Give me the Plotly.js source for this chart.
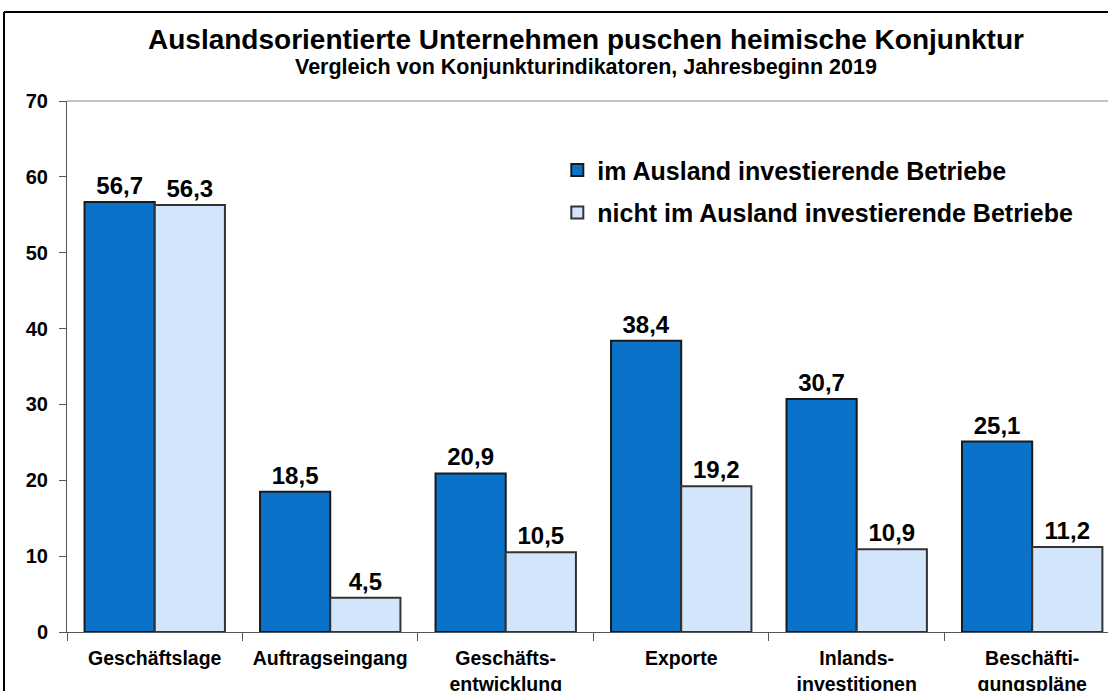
<!DOCTYPE html>
<html>
<head>
<meta charset="utf-8">
<script src="https://cdn.plot.ly/plotly-3.0.1.min.js"></script>
<style>
html,body{margin:0;padding:0;background:#fff;}
#chart{width:1108px;height:691px;}
</style>
</head>
<body>
<div id="chart"></div>
<script>
const categories = ["Geschäftslage", "Auftragseingang", "Geschäfts-<br>entwicklung", "Exporte", "Inlands-<br>investitionen", "Beschäfti-<br>gungspläne"];
const seriesNames = ["im Ausland investierende Betriebe", "nicht im Ausland investierende Betriebe"];
const valuesAusland = [56.7, 18.5, 20.9, 38.4, 30.7, 25.1];
const valuesNichtAusland = [56.3, 4.5, 10.5, 19.2, 10.9, 11.2];
const yTicks = [0, 10, 20, 30, 40, 50, 60, 70];
const titleText = "Auslandsorientierte Unternehmen puschen heimische Konjunktur";
const subtitleText = "Vergleich von Konjunkturindikatoren, Jahresbeginn 2019";

const font = "Liberation Sans, Arial, sans-serif";

const common = {
  type: "bar",
  x: categories,
  texttemplate: "%{y:.1f}",
  textposition: "outside",
  cliponaxis: false,
  textfont: {family: font, size: 24, color: "#000", weight: "bold"},
  hoverinfo: "skip"
};

const traces = [
  Object.assign({}, common, {
    name: seriesNames[0], y: valuesAusland, legendgroup: "a",
    marker: {color: "#0A72C8", line: {color: "#1a1a1a", width: 2}}
  }),
  Object.assign({}, common, {
    name: seriesNames[1], y: valuesNichtAusland, legendgroup: "b",
    marker: {color: "#D3E5FB", line: {color: "#333333", width: 2}}
  })
];

const layout = {
  width: 1108, height: 691,
  paper_bgcolor: "#fff", plot_bgcolor: "#fff",
  separators: ",.",
  margin: {l: 67, r: 0, t: 101, b: 59, pad: 0},
  barmode: "group", bargap: 0.2, bargroupgap: 0,
  font: {family: font, color: "#000"},
  xaxis: {
    type: "category",
    range: [-0.5, 5.432],
    showline: true, linecolor: "#555", linewidth: 1,
    ticks: "outside", tickson: "boundaries", ticklen: 8, tickcolor: "#555",
    ticklabelstandoff: 9,
    tickfont: {family: font, size: 19.5, color: "#000", weight: "bold"},
    showgrid: false, zeroline: false, fixedrange: true
  },
  yaxis: {
    range: [0, 70],
    tickvals: yTicks,
    showline: true, linecolor: "#555", linewidth: 1,
    ticks: "outside", ticklen: 7, tickcolor: "#555",
    ticklabelstandoff: 7,
    tickfont: {family: font, size: 20, color: "#000", weight: "bold"},
    showgrid: false, zeroline: false, fixedrange: true
  },
  legend: {
    x: 0.471, y: 0.913, xanchor: "left", yanchor: "top",
    bgcolor: "rgba(0,0,0,0)",
    font: {family: font, size: 25, color: "#000", weight: "bold"},
    traceorder: "grouped", tracegroupgap: 7,
    itemwidth: 30
  },
  annotations: [
    {text: "<b>" + titleText + "</b>", xref: "paper", yref: "paper", x: 0.4986, y: 592/531, xanchor: "center", yanchor: "middle", showarrow: false,
     font: {family: font, size: 28, color: "#000"}},
    {text: "<b>" + subtitleText + "</b>", xref: "paper", yref: "paper", x: 0.4986, y: 565/531, xanchor: "center", yanchor: "middle", showarrow: false,
     font: {family: font, size: 21.5, color: "#000"}}
  ],
  shapes: [
    {type: "line", xref: "paper", yref: "paper", x0: 0, x1: 1, y0: 1, y1: 1, line: {color: "#888", width: 1}},
    {type: "line", xref: "paper", yref: "paper", x0: -63/1041, x1: -63/1041, y0: 1 + 89/531, y1: -60/531, line: {color: "#000", width: 2}},
    {type: "line", xref: "paper", yref: "paper", x0: -63/1041, x1: 1.01, y0: 1 + 89/531, y1: 1 + 89/531, line: {color: "#000", width: 2}}
  ]
};

Plotly.newPlot("chart", traces, layout, {displayModeBar: false, staticPlot: true});
</script>
</body>
</html>
